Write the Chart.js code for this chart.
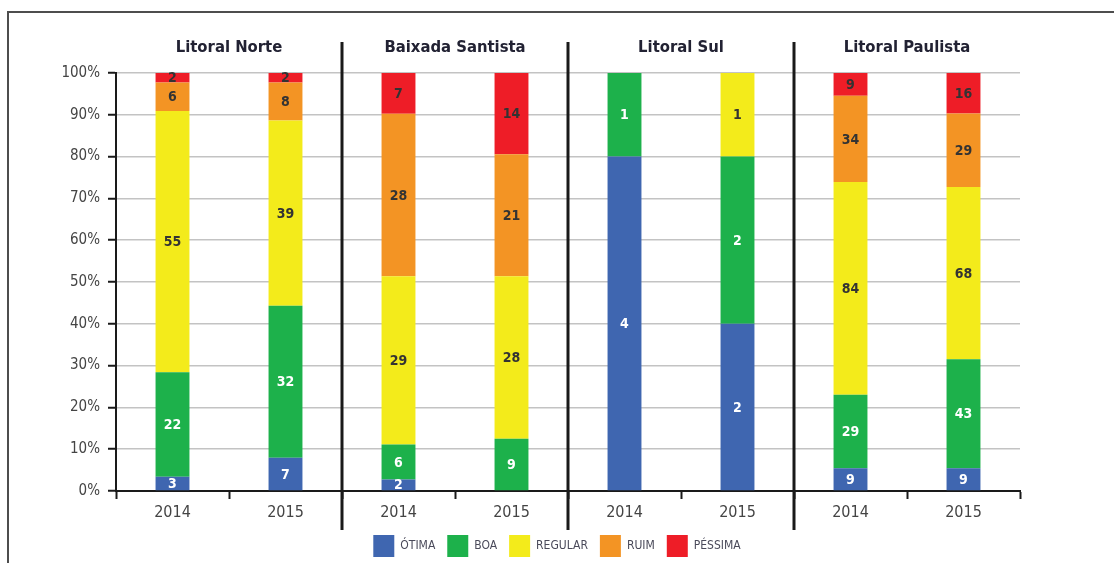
<!DOCTYPE html>
<html>
<head>
<meta charset="utf-8">
<script src="https://cdn.jsdelivr.net/npm/chart.js@4"></script>
<style>
  html, body { margin: 0; padding: 0; background: #fff; }
  #wrap { width: 1114px; height: 563px; }
</style>
</head>
<body>
<div id="wrap"><canvas id="qualidadeChart" width="1114" height="563"></canvas></div>
<script>
// Qualidade das praias - litoral paulista, 2014/2015

const groups = ['Litoral Norte', 'Baixada Santista', 'Litoral Sul', 'Litoral Paulista'];
const categories = ['2014', '2015', '2014', '2015', '2014', '2015', '2014', '2015'];

// número de praias por classe
const otima   = [3, 7, 2, 0, 4, 2, 9, 9];
const boa     = [22, 32, 6, 9, 1, 2, 29, 43];
const regular = [55, 39, 29, 28, 0, 1, 84, 68];
const ruim    = [6, 8, 28, 21, 0, 0, 34, 29];
const pessima = [2, 2, 7, 14, 0, 0, 9, 16];

const yTicks = [0, 10, 20, 30, 40, 50, 60, 70, 80, 90, 100];

const FONT = "'Liberation Sans Narrow', 'DejaVu Sans Condensed', 'Roboto', sans-serif";

const series = [
  { label: 'ÓTIMA',   counts: otima,   color: '#3f66b0', text: '#ffffff' },
  { label: 'BOA',     counts: boa,     color: '#1db14b', text: '#ffffff' },
  { label: 'REGULAR', counts: regular, color: '#f3eb1b', text: '#333333' },
  { label: 'RUIM',    counts: ruim,    color: '#f39424', text: '#333333' },
  { label: 'PÉSSIMA', counts: pessima, color: '#ee1d27', text: '#333333' }
];

const totals = categories.map((c, i) => series.reduce((s, d) => s + d.counts[i], 0));

document.addEventListener("DOMContentLoaded", () => {
  const ctx = document.getElementById('qualidadeChart');
  if (!ctx) return;

  // moldura, separadores e rótulos das barras
  const extras = {
    id: 'extras',
    afterLayout(chart) {
      // desce um pouco a legenda
      chart.legend.top += 4;
      chart.legend.bottom += 4;
    },
    beforeDraw(chart) {
      const c = chart.ctx;
      c.save();
      c.strokeStyle = '#4d4d4d';
      c.lineWidth = 2;
      c.beginPath();
      c.moveTo(8, 563);
      c.lineTo(8, 12);
      c.lineTo(1114, 12);
      c.stroke();
      c.restore();
    },
    afterDatasetsDraw(chart) {
      const c = chart.ctx;
      c.save();
      c.font = "bold 14px " + FONT;
      c.textAlign = 'center';
      c.textBaseline = 'middle';
      chart.data.datasets.forEach((ds, di) => {
        const meta = chart.getDatasetMeta(di);
        meta.data.forEach((bar, i) => {
          const n = series[di].counts[i];
          if (!n) return;
          c.fillStyle = series[di].text;
          c.fillText(String(n), bar.x, (bar.y + bar.base) / 2 + 1);
        });
      });
      c.restore();
    },
    afterDraw(chart) {
      const x = chart.scales.x;
      const c = chart.ctx;
      c.save();
      c.strokeStyle = '#1a1a1a';
      c.lineWidth = 3;
      [1, 3, 5].forEach(i => {
        const px = Math.round((x.getPixelForValue(i) + x.getPixelForValue(i + 1)) / 2);
        c.beginPath();
        c.moveTo(px, 42);
        c.lineTo(px, 530);
        c.stroke();
      });
      c.restore();
    }
  };

  new Chart(ctx, {
    type: 'bar',
    data: {
      labels: categories,
      datasets: series.map(s => ({
        label: s.label,
        data: s.counts.map((v, i) => v / totals[i] * 100),
        backgroundColor: s.color,
        borderWidth: 0,
        barPercentage: 0.3,
        categoryPercentage: 1
      }))
    },
    options: {
      responsive: false,
      animation: false,
      layout: { padding: 0 },
      plugins: {
        tooltip: { enabled: false },
        legend: {
          position: 'bottom',
          labels: {
            color: '#4a4a5a',
            font: { family: FONT, size: 12 },
            boxWidth: 21,
            boxHeight: 22,
            padding: 12
          }
        }
      },
      scales: {
        x: {
          stacked: true,
          afterFit: s => { s.height = 28; },
          border: { color: '#1a1a1a', width: 2 },
          grid: {
            offset: true,
            drawOnChartArea: false,
            tickLength: 8,
            tickColor: '#1a1a1a',
            tickWidth: 2
          },
          ticks: { color: '#444444', font: { family: FONT, size: 16 }, padding: 4 }
        },
        top: {
          type: 'category',
          labels: groups,
          position: 'top',
          offset: true,
          afterFit: s => { s.height = 73; },
          border: { display: false },
          grid: { display: false, drawTicks: false },
          ticks: { color: '#222233', font: { family: FONT, size: 16.5, weight: 'bold' }, padding: 15 }
        },
        y: {
          stacked: true,
          min: 0,
          max: 100,
          afterFit: s => { s.width = 116; },
          afterBuildTicks: s => { s.ticks = yTicks.map(v => ({ value: v })); },
          border: { color: '#1a1a1a', width: 2 },
          grid: {
            color: '#c3c3c3',
            lineWidth: 1.5,
            tickLength: 8,
            tickColor: '#1a1a1a',
            tickWidth: 2
          },
          ticks: {
            color: '#444444',
            font: { family: FONT, size: 15 },
            padding: 8,
            callback: v => v + '%'
          }
        },
        // margem direita vazia, para a legenda ficar centrada na página
        margem: {
          position: 'right',
          afterFit: s => { s.width = 94; },
          border: { display: false },
          grid: { display: false },
          ticks: { display: false }
        }
      }
    },
    plugins: [extras]
  });
});
</script>
</body>
</html>
